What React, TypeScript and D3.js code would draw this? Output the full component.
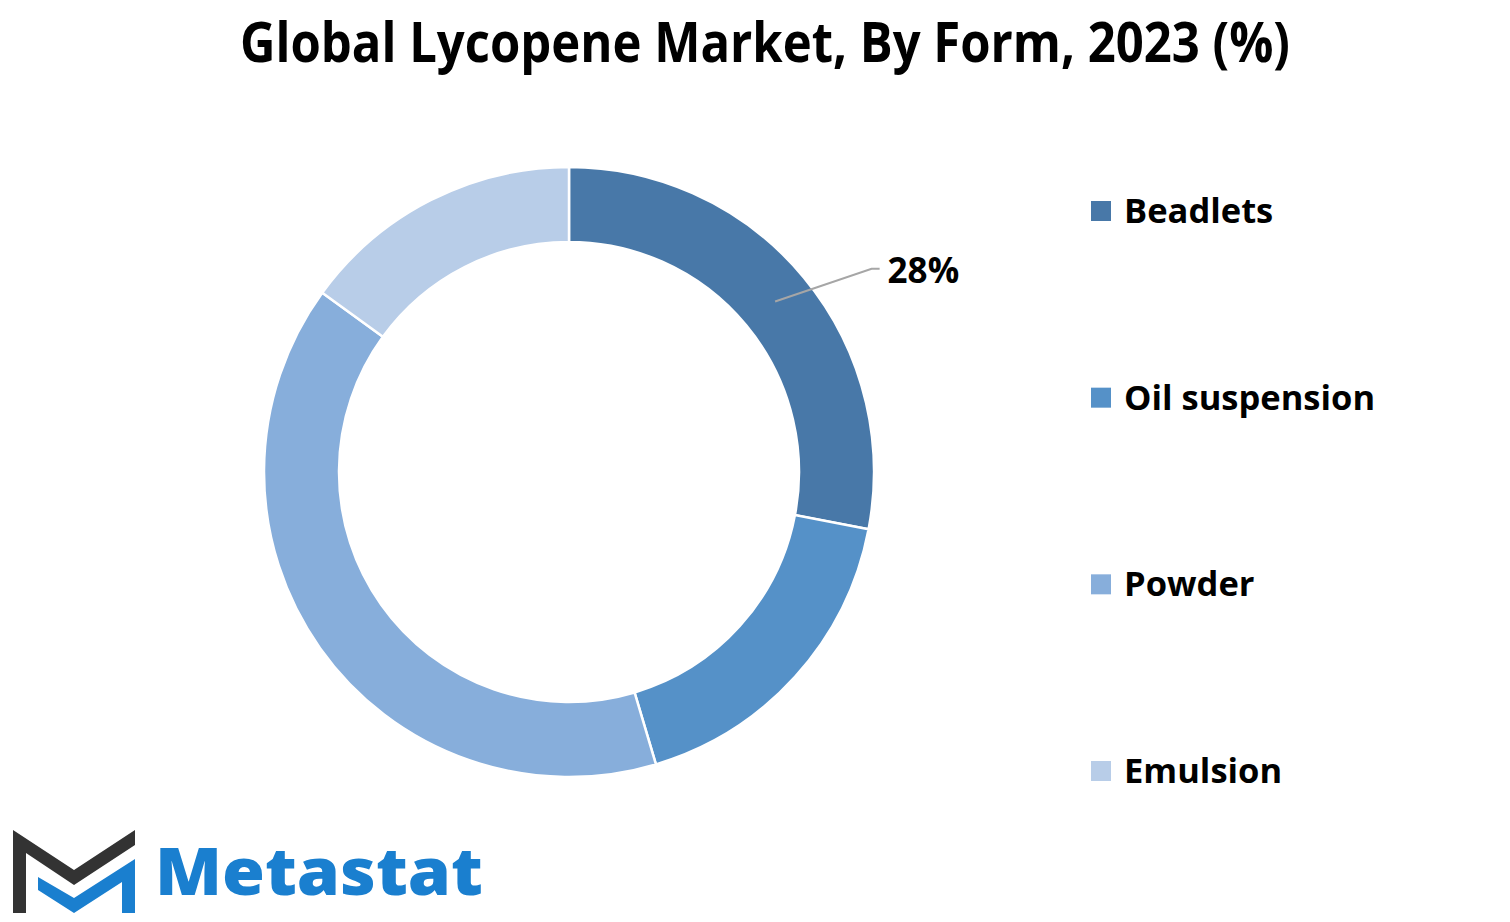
import React from "react";
import * as d3 from "d3";

const categories = ["Beadlets", "Oil suspension", "Powder", "Emulsion"];
const values = [28, 17.4, 39.6, 15];
const labels = ["28%", "", "", ""];
const colors = ["#4878a8", "#5591c8", "#87aedb", "#b8cde8"];

const W = 1510;
const H = 922;

export default function App() {
  const cx = 569;
  const cy = 472;
  const outerR = 305;
  const innerR = 230;

  const pie = d3.pie<number>().sort(null).value((d) => d);
  const arcs = pie(values);
  const arcGen = d3.arc<d3.PieArcDatum<number>>().innerRadius(innerR).outerRadius(outerR);

  const legendY = d3.scalePoint<string>().domain(categories).range([211, 771]);

  const font = "'Open Sans', Calibri, sans-serif";

  return (
    <svg
      width={W}
      height={H}
      style={{ position: "absolute", left: 0, top: 0, background: "#fff" }}
    >
      <rect x={0} y={0} width={W} height={H} fill="#fff" />
      <text
        x={240}
        y={62}
        fontFamily={font}
        fontWeight={700}
        fontSize={55}
        textLength={1050}
        lengthAdjust="spacingAndGlyphs"
        fill="#000"
      >
        Global Lycopene Market, By Form, 2023 (%)
      </text>

      <g transform={`translate(${cx},${cy})`}>
        {arcs.map((a, i) => (
          <path key={i} d={arcGen(a) || ""} fill={colors[i]} stroke="#fff" strokeWidth={2.5} />
        ))}
        {arcs.map((a, i) => {
          if (!labels[i]) return null;
          const [x0, y0] = arcGen.centroid(a);
          const mid = (a.startAngle + a.endAngle) / 2 + 0.1;
          const r2 = outerR * 1.195;
          const x1 = Math.sin(mid) * r2;
          const y1 = -Math.cos(mid) * r2;
          const x2 = x1 + 8;
          return (
            <g key={"l" + i}>
              <polyline
                points={`${x0},${y0} ${x1},${y1} ${x2},${y1}`}
                fill="none"
                stroke="#a6a6a6"
                strokeWidth={2}
              />
              <text
                x={x2 + 8}
                y={y1 + 14}
                fontFamily={font}
                fontWeight={700}
                fontSize={35}
                fill="#000"
              >
                {labels[i]}
              </text>
            </g>
          );
        })}
      </g>

      {categories.map((c, i) => {
        const y = legendY(c) as number;
        return (
          <g key={c}>
            <rect x={1091} y={y - 10} width={20} height={20} fill={colors[i]} />
            <text
              x={1124}
              y={y + 12}
              fontFamily={font}
              fontWeight={700}
              fontSize={34.5}
              fill="#000"
            >
              {c}
            </text>
          </g>
        );
      })}

      {/* Logo */}
      <g>
        <polygon
          points="13,830 74,870 135,830 135,845 74,885 26,853 26,913 13,913"
          fill="#333333"
        />
        <polygon
          points="38,877 74,898 135,859 135,913 122,913 122,882 74,913 38,890"
          fill="#1a7fcf"
        />
        <text
          x={155}
          y={895}
          fontFamily={font}
          fontWeight={800}
          fontSize={66}
          textLength={328}
          lengthAdjust="spacingAndGlyphs"
          fill="#1a7fcf"
        >
          Metastat
        </text>
      </g>
    </svg>
  );
}
